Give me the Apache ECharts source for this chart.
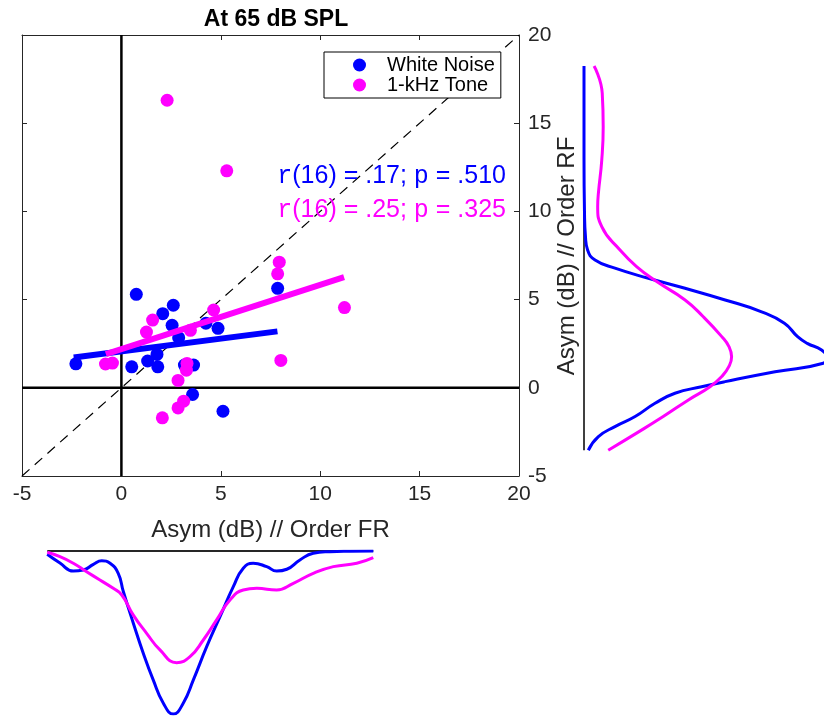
<!DOCTYPE html>
<html><head><meta charset="utf-8">
<script src="https://cdn.jsdelivr.net/npm/echarts@6/dist/echarts.min.js"></script>
<style>html,body{margin:0;padding:0;background:#fff}#c{width:824px;height:716px}</style>
</head><body><div id="c"></div>
<script>
// ---- data ----
const axisTicks = [-5, 0, 5, 10, 15, 20];
const seriesNames = ['White Noise', '1-kHz Tone'];
const whiteNoisePts = [[-2.29,1.36],[0.52,1.19],[0.75,5.30],[1.32,1.52],[1.79,1.89],[1.83,1.19],[2.08,4.20],[2.55,3.54],[2.61,4.68],[2.88,2.84],[3.17,1.29],[3.63,1.29],[3.58,-0.38],[4.25,3.66],[4.86,3.37],[5.11,-1.33],[7.86,5.64]];
const tonePts = [[-0.80,1.35],[-0.45,1.40],[1.26,3.16],[1.57,3.84],[2.06,-1.70],[2.30,16.3],[2.85,0.42],[2.85,-1.14],[3.13,-0.76],[3.27,1.00],[3.30,1.38],[3.47,3.26],[4.64,4.41],[5.30,12.3],[7.86,6.46],[7.94,7.12],[8.02,1.55],[11.22,4.55]];
const whiteNoiseFit = [[-2.4,1.72],[7.85,3.2]];
const toneFit = [[-0.78,1.91],[11.2,6.27]];
const unityLine = [[-5,-5],[20,20]];
const zeroV = [[0,-5],[0,20]];
const zeroH = [[-5,0],[20,0]];
const statsText = ['r(16) = .17; p = .510', 'r(16) = .25; p = .325'];
// density along RF (y) axis: [density, y]
const whiteNoiseRF = [[0.018,-3.54],[0.06,-2.77],[0.129,-2.2],[0.213,-1.63],[0.296,-0.88],[0.379,-0.31],[0.49,0.06],[0.588,0.35],[0.796,0.91],[0.997,1.39],[1.01,1.75],[0.99,2.14],[0.93,2.52],[0.89,2.9],[0.835,3.66],[0.74,4.31],[0.588,4.98],[0.421,5.64],[0.268,6.21],[0.129,6.78],[0.046,7.25],[0.015,7.81],[0.006,8.6],[0.002,10],[0,13],[0,18.24]];
const toneRF = [[0.101,-3.54],[0.219,-2.57],[0.33,-1.63],[0.435,-0.69],[0.525,0.06],[0.574,0.64],[0.604,1.21],[0.615,1.76],[0.604,2.33],[0.574,2.9],[0.497,4.03],[0.421,4.98],[0.303,6.02],[0.219,6.87],[0.15,7.81],[0.074,9.13],[0.057,10.27],[0.06,11.03],[0.074,12.91],[0.08,14.8],[0.076,16.7],[0.042,18.24]];
const baseRF = [[0,-3.54],[0,18.24]];
// density along FR (x) axis: [x, density]
const whiteNoiseFR = [[-3.73,0.02],[-3.09,0.074],[-2.42,0.123],[-1.92,0.117],[-1.41,0.082],[-0.99,0.06],[-0.57,0.075],[-0.16,0.137],[0.1,0.25],[0.6,0.443],[1.1,0.627],[1.6,0.791],[2.11,0.934],[2.61,1.0],[3.11,0.934],[3.62,0.791],[4.29,0.587],[4.96,0.403],[5.63,0.219],[6.13,0.106],[6.63,0.075],[7.31,0.096],[7.81,0.123],[8.32,0.112],[8.98,0.055],[9.65,0.014],[10.49,0.004],[11.5,0.001],[12.67,0]];
const toneFR = [[-3.73,0.008],[-3.09,0.035],[-2.42,0.075],[-1.75,0.127],[-1.08,0.178],[-0.41,0.229],[0.02,0.27],[0.6,0.393],[1.27,0.505],[1.94,0.607],[2.78,0.685],[3.45,0.648],[4.12,0.546],[4.79,0.423],[5.46,0.301],[6.13,0.239],[6.81,0.229],[7.81,0.239],[8.65,0.198],[9.65,0.137],[10.66,0.096],[11.84,0.075],[12.67,0.041]];
const baseFR = [[-3.73,0],[12.67,0]];

// ---- styles ----
const BLUE = '#0000ff', MAG = '#ff00ff', INK = '#262626';
const FONT = '"Liberation Sans", Arial, Helvetica, sans-serif';
const MONO = '"Liberation Mono", "Courier New", monospace';
function statRich(s) {
  return s.replace(/^r/, '{m|r}').replace(/ p /, ' {m|p} ');
}
function statStyle(text, color, y) {
  return { type: 'text', x: 506, y: y, z: 100, style: { text: statRich(text), fill: color,
    font: '25px ' + FONT, textAlign: 'right', align: 'right', textVerticalAlign: 'middle', verticalAlign: 'middle',
    rich: { m: { fontFamily: MONO, fontSize: 25, fill: color } } } };
}
const mainAxisCommon = {
  type: 'value', min: -5, max: 20, interval: 5,
  axisLine: { onZero: false, lineStyle: { color: INK, width: 1 } },
  axisTick: { inside: true, length: 5, lineStyle: { color: INK, width: 1 } },
  splitLine: { show: false }
};
const chart = echarts.init(document.getElementById('c'), null, { renderer: 'canvas' });
chart.setOption({
  animation: false,
  backgroundColor: '#fff',
  title: { text: 'At 65 dB SPL', left: 271, top: 3, textAlign: 'center',
    textStyle: { fontSize: 23, fontWeight: 'bold', fontFamily: FONT, color: '#000' } },
  legend: {
    data: seriesNames, orient: 'vertical', left: 324, top: 52,
    padding: [3, 6, 3, 29], itemWidth: 13, itemHeight: 13, itemGap: 0,
    borderColor: '#000', borderWidth: 1, backgroundColor: '#fff', icon: 'circle',
    textStyle: { fontSize: 20, fontFamily: FONT, color: '#000', padding: [0, 0, 0, 16], lineHeight: 20 }
  },
  grid: [
    { left: 22, top: 35, width: 497, height: 441 },
    { left: 584, top: 35, width: 240, height: 441 },
    { left: 22, top: 551, width: 497, height: 163 }
  ],
  xAxis: [
    Object.assign({}, mainAxisCommon, { gridIndex: 0, position: 'bottom',
      axisLabel: { fontSize: 21, color: INK, fontFamily: FONT, margin: 8 },
      name: 'Asym (dB) // Order FR', nameLocation: 'middle', nameGap: 42,
      nameTextStyle: { fontSize: 24, color: INK, fontFamily: FONT } }),
    Object.assign({}, mainAxisCommon, { gridIndex: 0, position: 'top', axisLabel: { show: false } }),
    { gridIndex: 1, type: 'value', min: 0, max: 1, show: false },
    { gridIndex: 2, type: 'value', min: -5, max: 20, show: false }
  ],
  yAxis: [
    Object.assign({}, mainAxisCommon, { gridIndex: 0, position: 'left', axisLabel: { show: false } }),
    Object.assign({}, mainAxisCommon, { gridIndex: 0, position: 'right',
      axisLabel: { fontSize: 21, color: INK, fontFamily: FONT, margin: 9 } }),
    { gridIndex: 1, type: 'value', min: -5, max: 20, show: false },
    { gridIndex: 2, type: 'value', min: 0, max: 1, inverse: true, show: false }
  ],
  graphic: [
    statStyle(statsText[0], BLUE, 176),
    statStyle(statsText[1], MAG, 210),
    { type: 'text', x: 567, y: 256, rotation: Math.PI / 2, style: { text: 'Asym (dB) // Order RF', fill: INK,
      font: '24px ' + FONT, textAlign: 'center', align: 'center', textVerticalAlign: 'middle', verticalAlign: 'middle' } }
  ],
  series: [
    { type: 'line', name: 'zeroV', data: zeroV, xAxisIndex: 0, yAxisIndex: 0, symbol: 'none', z: 1,
      lineStyle: { color: '#000', width: 2.5 }, silent: true },
    { type: 'line', name: 'zeroH', data: zeroH, xAxisIndex: 0, yAxisIndex: 0, symbol: 'none', z: 1,
      lineStyle: { color: '#000', width: 2.5 }, silent: true },
    { type: 'line', name: 'unity', data: unityLine, xAxisIndex: 0, yAxisIndex: 0, symbol: 'none', z: 1,
      lineStyle: { color: '#000', width: 1.2, type: [10, 7] }, silent: true },
    { type: 'scatter', name: seriesNames[0], data: whiteNoisePts, xAxisIndex: 0, yAxisIndex: 0,
      symbol: 'circle', symbolSize: 13, itemStyle: { color: BLUE, opacity: 1 }, z: 3 },
    { type: 'scatter', name: seriesNames[1], data: tonePts, xAxisIndex: 0, yAxisIndex: 0,
      symbol: 'circle', symbolSize: 13, itemStyle: { color: MAG, opacity: 1 }, z: 3 },
    { type: 'line', name: 'wnFit', data: whiteNoiseFit, xAxisIndex: 0, yAxisIndex: 0, symbol: 'none', z: 4,
      lineStyle: { color: BLUE, width: 6, cap: 'butt' } },
    { type: 'line', name: 'toneFit', data: toneFit, xAxisIndex: 0, yAxisIndex: 0, symbol: 'none', z: 4,
      lineStyle: { color: MAG, width: 6, cap: 'butt' } },
    // right density
    { type: 'line', name: 'baseRF', data: baseRF, xAxisIndex: 2, yAxisIndex: 2, symbol: 'none', z: 1,
      lineStyle: { color: '#000', width: 1.5 } },
    { type: 'line', name: 'wnRF', data: whiteNoiseRF, xAxisIndex: 2, yAxisIndex: 2, symbol: 'none', smooth: 0.5, z: 2,
      lineStyle: { color: BLUE, width: 3 } },
    { type: 'line', name: 'toneRF', data: toneRF, xAxisIndex: 2, yAxisIndex: 2, symbol: 'none', smooth: 0.5, z: 2,
      lineStyle: { color: MAG, width: 3 } },
    // bottom density
    { type: 'line', name: 'baseFR', data: baseFR, xAxisIndex: 3, yAxisIndex: 3, symbol: 'none', z: 1,
      lineStyle: { color: INK, width: 2 } },
    { type: 'line', name: 'wnFR', data: whiteNoiseFR, xAxisIndex: 3, yAxisIndex: 3, symbol: 'none', smooth: 0.5, z: 2,
      lineStyle: { color: BLUE, width: 3 } },
    { type: 'line', name: 'toneFR', data: toneFR, xAxisIndex: 3, yAxisIndex: 3, symbol: 'none', smooth: 0.5, z: 2,
      lineStyle: { color: MAG, width: 3 } }
  ]
});
</script></body></html>
